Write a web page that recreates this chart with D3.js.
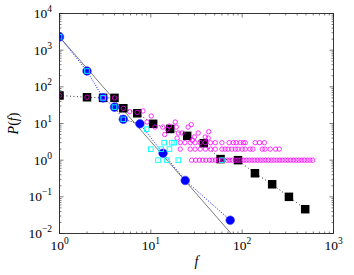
<!DOCTYPE html>
<html>
<head>
<meta charset="utf-8">
<script src="https://cdn.jsdelivr.net/npm/d3@7"></script>
<style>
    body { margin: 0; background: #fff; }
    svg { display: block; }
    text { font-family: "Liberation Serif", "DejaVu Serif", serif; fill: #000; }
</style>
</head>
<body>
<div id="chart"></div>
<script>
// -----
// DATA
// -----

// binned distribution, blue circles
const blueF = [1, 2, 3, 4, 5, 7.6, 13.6, 23.8, 74];
const blueP = [2300, 270, 50, 28, 13, 9.8, 1.55, 0.28, 0.023];

// binned distribution, black squares
const blackF = [1, 2, 3, 4, 5, 7.1, 10.6, 16.3, 25, 38, 58, 90, 138, 213, 325, 490];
const blackP = [58, 52, 50, 50, 26, 19, 9.8, 7.1, 4.6, 2.9, 1.07, 1.0, 0.44, 0.22, 0.10, 0.046];

// raw counts, cyan squares
const cyanF = [1, 2, 3, 4, 5, 9, 10, 12, 13, 14, 15, 16, 17, 18, 20, 60];
const cyanP = [2300, 270, 50, 28, 13, 7, 2, 1, 2, 3, 1, 2, 3, 3, 1, 1];

// raw counts, magenta circles
const magentaF = [
    1, 2, 3, 4, 5, 5.9, 7.1, 8.2, 9.1, 10.1, 11.1, 13.5, 14.2, 15.1, 15.9, 18.5, 19,
    19.4, 20, 22, 25.6, 27.7, 28.4, 30, 33, 39.5, 42.5, 43,
    21, 23.6, 27, 30.5, 34.7, 39.5, 45, 50.7, 60, 72, 80, 86, 95, 103, 108, 139, 155, 175,
    21, 27, 30.5, 34.7, 39.5, 45, 50.7, 60, 65, 70, 77, 84, 90, 100, 108, 122, 131, 166, 178, 203, 232, 255,
    28, 31, 34, 37, 40, 44, 47, 51, 55, 59, 63, 68, 73, 78, 84, 90, 97, 104, 111, 119, 128, 137,
    147, 158, 169, 181, 194, 208, 223, 240, 257, 275, 295, 316, 339, 364, 390, 418, 448, 480, 515, 552, 592
];
const magentaP = [
    58, 52, 50, 50, 26, 21, 20, 22, 11, 16, 8, 8, 5, 7, 8.5, 11, 8,
    4, 5.5, 5.5, 8, 9.3, 3.5, 4.3, 5.5, 4.3, 4, 6,
    3, 3, 3, 3, 3, 3, 3, 3, 3, 3, 3, 3, 3, 3, 3, 3, 3, 3,
    2, 2, 2, 2, 2, 2, 2, 2, 2, 2, 2, 2, 2, 2, 2, 2, 2, 2, 2, 2, 2, 2,
    1, 1, 1, 1, 1, 1, 1, 1, 1, 1, 1, 1, 1, 1, 1, 1, 1, 1, 1, 1, 1, 1,
    1, 1, 1, 1, 1, 1, 1, 1, 1, 1, 1, 1, 1, 1, 1, 1, 1, 1, 1, 1, 1, 1, 1
];

// power-law guide line
const guideF = [1, 100];
const guideP = [2300, 0.0045];

const xExtent = [1, 1000];
const yExtent = [1e-2, 1e4];

// -----
// CHART
// -----

const width = 354, height = 275;
const pLeft = 59.5, pRight = 333.5, pTop = 13.5, pBottom = 233.5;

const svg = d3.select('#chart').append('svg')
    .attr('width', width)
    .attr('height', height);

const x = d3.scaleLog().domain(xExtent).range([pLeft, pRight]);
const y = d3.scaleLog().domain(yExtent).range([pBottom, pTop]);

svg.append('clipPath')
    .attr('id', 'plot-clip')
    .append('rect')
    .attr('x', pLeft).attr('y', pTop)
    .attr('width', pRight - pLeft).attr('height', pBottom - pTop);

const plot = svg.append('g').attr('clip-path', 'url(#plot-clip)');

const zip = (fs, ps) => fs.map((f, i) => ({ f, p: ps[i] }));
const line = d3.line().x(d => x(d.f)).y(d => y(d.p));

// guide line
plot.append('path')
    .attr('d', line(zip(guideF, guideP)))
    .attr('fill', 'none')
    .attr('stroke', '#444')
    .attr('stroke-width', 0.7);

// black binned series
const black = zip(blackF, blackP);
plot.append('path')
    .attr('d', line(black))
    .attr('fill', 'none')
    .attr('stroke', '#000')
    .attr('stroke-width', 0.9)
    .attr('stroke-dasharray', '0.9 2.6');
const sq = 8.5;
plot.append('g').selectAll('rect')
    .data(black)
    .join('rect')
    .attr('x', d => x(d.f) - sq / 2)
    .attr('y', d => y(d.p) - sq / 2)
    .attr('width', sq).attr('height', sq)
    .attr('fill', '#000');

// blue binned series
const blue = zip(blueF, blueP);
plot.append('path')
    .attr('d', line(blue))
    .attr('fill', 'none')
    .attr('stroke', '#0000ff')
    .attr('stroke-width', 1)
    .attr('stroke-dasharray', '0.9 1.6');
plot.append('g').selectAll('circle')
    .data(blue)
    .join('circle')
    .attr('cx', d => x(d.f))
    .attr('cy', d => y(d.p))
    .attr('r', 4.3)
    .attr('fill', '#0000ff')
    .attr('stroke', '#3333ff')
    .attr('stroke-width', 0.6);

// magenta raw counts
plot.append('g').selectAll('circle')
    .data(zip(magentaF, magentaP))
    .join('circle')
    .attr('cx', d => x(d.f))
    .attr('cy', d => y(d.p))
    .attr('r', 2.2)
    .attr('fill', 'none')
    .attr('stroke', '#ff00ff')
    .attr('stroke-width', 0.8);

// cyan raw counts
const cs = 4.6;
plot.append('g').selectAll('rect')
    .data(zip(cyanF, cyanP))
    .join('rect')
    .attr('x', d => x(d.f) - cs / 2)
    .attr('y', d => y(d.p) - cs / 2)
    .attr('width', cs).attr('height', cs)
    .attr('fill', 'none')
    .attr('stroke', '#00ffff')
    .attr('stroke-width', 0.9);

// -----
// AXES: box, inward ticks on all sides, 10^k labels
// -----

const isMajor = v => Math.abs(Math.log10(v) - Math.round(Math.log10(v))) < 1e-9;
const ticks = svg.append('g')
    .attr('stroke', '#222')
    .attr('stroke-width', 0.6);

x.ticks().forEach(v => {
    const len = isMajor(v) ? 4 : 2;
    ticks.append('line').attr('x1', x(v)).attr('x2', x(v)).attr('y1', pBottom).attr('y2', pBottom - len);
    ticks.append('line').attr('x1', x(v)).attr('x2', x(v)).attr('y1', pTop).attr('y2', pTop + len);
});
y.ticks().forEach(v => {
    const len = isMajor(v) ? 4 : 2;
    ticks.append('line').attr('y1', y(v)).attr('y2', y(v)).attr('x1', pLeft).attr('x2', pLeft + len);
    ticks.append('line').attr('y1', y(v)).attr('y2', y(v)).attr('x1', pRight).attr('x2', pRight - len);
});

svg.append('rect')
    .attr('x', pLeft).attr('y', pTop)
    .attr('width', pRight - pLeft).attr('height', pBottom - pTop)
    .attr('fill', 'none')
    .attr('stroke', '#222')
    .attr('stroke-width', 0.9);

function powerLabel(g, exp) {
    g.append('tspan').text('10').attr('font-size', 13.5);
    g.append('tspan').text(exp < 0 ? '\u2212' + (-exp) : exp)
        .attr('font-size', 9.5)
        .attr('dy', -6);
}

x.ticks().filter(isMajor).forEach(v => {
    const t = svg.append('text')
        .attr('x', x(v))
        .attr('y', 250)
        .attr('text-anchor', 'middle');
    powerLabel(t, Math.round(Math.log10(v)));
});
y.ticks().filter(isMajor).forEach(v => {
    const t = svg.append('text')
        .attr('x', 52)
        .attr('y', y(v) + 4.5)
        .attr('text-anchor', 'end');
    powerLabel(t, Math.round(Math.log10(v)));
});

// axis titles
svg.append('text')
    .attr('x', (pLeft + pRight) / 2)
    .attr('y', 266)
    .attr('text-anchor', 'middle')
    .attr('font-size', 14)
    .attr('font-style', 'italic')
    .text('f');

const yt = svg.append('text')
    .attr('transform', `translate(18,${(pTop + pBottom) / 2}) rotate(-90)`)
    .attr('text-anchor', 'middle')
    .attr('font-size', 14);
yt.append('tspan').attr('font-style', 'italic').text('P');
yt.append('tspan').text('(');
yt.append('tspan').attr('font-style', 'italic').text('f');
yt.append('tspan').text(')');
</script>
</body>
</html>
